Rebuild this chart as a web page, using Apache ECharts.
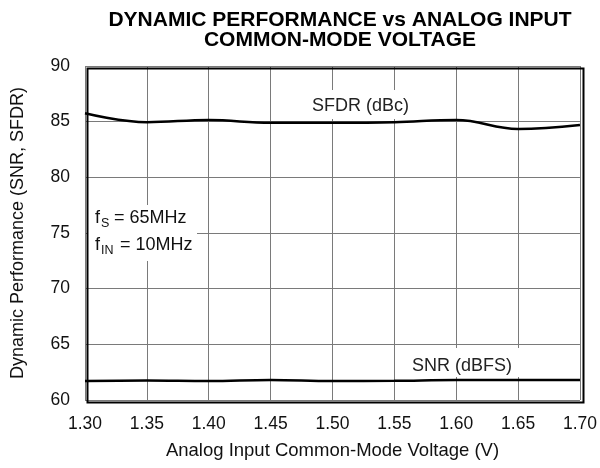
<!DOCTYPE html>
<html><head><meta charset="utf-8">
<script src="https://cdn.jsdelivr.net/npm/echarts@6/dist/echarts.min.js"></script>
<style>html,body{margin:0;padding:0;background:#fff}#c{width:600px;height:468px}</style>
</head><body><div id="c"></div>
<script>
const voltages = [1.30, 1.35, 1.40, 1.45, 1.50, 1.55, 1.60, 1.65, 1.70];
const sfdr = [85.75, 84.95, 85.15, 84.9, 84.9, 84.95, 85.15, 84.35, 84.7];
const snr = [61.7, 61.75, 61.7, 61.8, 61.7, 61.72, 61.8, 61.8, 61.8];
const xTicks = ['1.30','1.35','1.40','1.45','1.50','1.55','1.60','1.65','1.70'];
const yTicks = [60, 65, 70, 75, 80, 85, 90];

const F = 'Liberation Sans, Arial, Helvetica, sans-serif';
const FS = 17.5;
const chart = echarts.init(document.getElementById('c'));
function txt(x, y, s, size, color) {
  return {type: 'text', x: x, y: y, z: 60, silent: true,
    style: {text: s, font: size + 'px ' + F, fill: color || '#111'}};
}
chart.setOption({
  animation: false,
  title: {
    text: 'DYNAMIC PERFORMANCE vs ANALOG INPUT\nCOMMON-MODE VOLTAGE',
    left: 335, top: 5, textAlign: 'center',
    textStyle: {fontFamily: F, fontWeight: 'bold', fontSize: 21, lineHeight: 20, color: '#000'}
  },
  grid: {left: 85, right: 19, top: 66, bottom: 68},
  xAxis: {
    type: 'value', min: 1.30, max: 1.70, interval: 0.05,
    name: 'Analog Input Common-Mode Voltage (V)', nameLocation: 'middle', nameGap: 41,
    nameTextStyle: {fontFamily: F, fontSize: 18.5, color: '#111'},
    axisLine: {show: false}, axisTick: {show: false},
    axisLabel: {fontFamily: F, fontSize: FS, color: '#111', margin: 15,
      formatter: v => xTicks[Math.round((v - 1.30) / 0.05)] || ''},
    splitLine: {show: true, lineStyle: {color: '#7a7a7a', width: 1}}
  },
  yAxis: {
    type: 'value', min: 60, max: 90, interval: 5,
    name: 'Dynamic Performance (SNR, SFDR)', nameLocation: 'middle', nameGap: 58,
    nameTextStyle: {fontFamily: F, fontSize: 18, color: '#111'},
    axisLine: {show: false}, axisTick: {show: false},
    axisLabel: {fontFamily: F, fontSize: FS, color: '#111', margin: 15,
      formatter: v => yTicks.includes(v) ? String(v) : ''},
    splitLine: {show: true, lineStyle: {color: '#7a7a7a', width: 1}}
  },
  graphic: [
    {type: 'rect', left: 85, top: 66, z: 100, silent: true,
     shape: {width: 496, height: 334}, style: {fill: 'none', stroke: '#000', lineWidth: 2}},
    {type: 'rect', x: 305, y: 90, z: 40, silent: true, shape: {width: 115, height: 29}, style: {fill: '#fff'}},
    txt(312, 97, 'SFDR (dBc)', 18, '#222'),
    {type: 'rect', x: 404, y: 348, z: 40, silent: true, shape: {width: 118, height: 29}, style: {fill: '#fff'}},
    txt(412, 357, 'SNR (dBFS)', 18, '#222'),
    {type: 'rect', x: 87, y: 205, z: 40, silent: true, shape: {width: 110, height: 56}, style: {fill: '#fff'}},
    txt(95, 209, 'f', 18, '#111'),
    txt(101, 217, 'S', 12.5, '#111'),
    txt(114, 209, '= 65MHz', 18, '#111'),
    txt(95, 236, 'f', 18, '#111'),
    txt(101, 244, 'IN', 12.5, '#111'),
    txt(120, 236, '= 10MHz', 18, '#111')
  ],
  series: [
    {type: 'line', data: voltages.map((v, i) => [v, sfdr[i]]), smooth: 0.4, symbol: 'none',
     lineStyle: {color: '#000', width: 2.5}, z: 60},
    {type: 'line', data: voltages.map((v, i) => [v, snr[i]]), smooth: 0.4, symbol: 'none',
     lineStyle: {color: '#000', width: 2.5}, z: 60}
  ]
});
</script></body></html>
